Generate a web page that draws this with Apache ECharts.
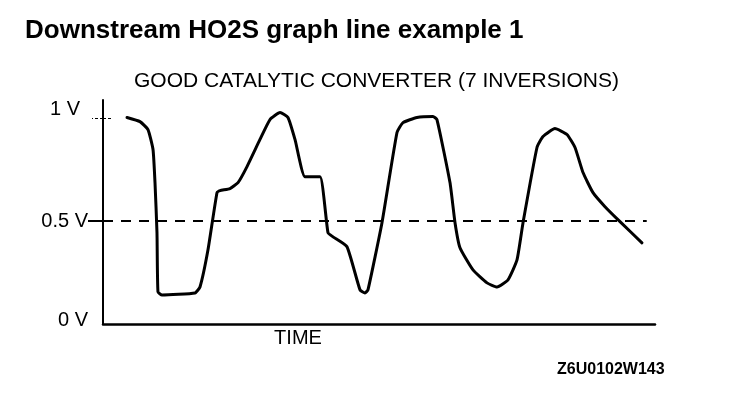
<!DOCTYPE html>
<html>
<head>
<meta charset="utf-8">
<script src="https://cdn.jsdelivr.net/npm/echarts@6/dist/echarts.min.js"></script>
<style>
html,body{margin:0;padding:0;background:#fff;}
#chart{width:736px;height:396px;}
</style>
</head>
<body>
<div id="chart"></div>
<script>
// Time (arbitrary units, 0..100 across the axis) and sensor voltage (V)
var timeValues = [4.35, 6.7, 8.15, 9.06, 9.42, 9.78, 9.96, 10.69, 16.67, 17.57, 19.02, 20.65, 21.2, 23.0, 24.46, 26.09, 28.44, 30.25, 32.07, 33.51, 34.78, 36.59, 39.31, 40.76, 41.67, 44.2, 46.56, 47.46, 48.0, 50.54, 53.26, 54.35, 56.88, 59.78, 60.5, 62.86, 63.77, 64.67, 67.03, 69.57, 71.38, 73.37, 75.0, 76.09, 78.62, 79.71, 81.88, 84.06, 85.51, 86.96, 88.77, 90.94, 93.66, 97.64];
var voltValues = [1.005, 0.985, 0.946, 0.849, 0.688, 0.444, 0.156, 0.141, 0.151, 0.180, 0.361, 0.639, 0.649, 0.659, 0.688, 0.766, 0.898, 0.995, 1.029, 1.005, 0.898, 0.717, 0.717, 0.444, 0.424, 0.376, 0.166, 0.151, 0.166, 0.493, 0.932, 0.980, 1.005, 1.010, 0.995, 0.688, 0.493, 0.371, 0.263, 0.200, 0.180, 0.215, 0.312, 0.493, 0.859, 0.912, 0.951, 0.922, 0.859, 0.737, 0.639, 0.571, 0.498, 0.395];
var yTickValues = [0, 0.5, 1];
var yTickLabels = ['0 V', '0.5 V', '1 V'];
var thresholdVolt = 0.5;
var thresholdEndTime = 98.5;
var topMarkVolt = 1;
var topMarkEndTime = 1.8;

var chartTitle = 'Downstream HO2S graph line example 1';
var chartSubtitle = 'GOOD CATALYTIC CONVERTER (7 INVERSIONS)';
var xAxisName = 'TIME';
var figureCode = 'Z6U0102W143';

var seriesData = timeValues.map(function (t, i) { return [t, voltValues[i]]; });

var chart = echarts.init(document.getElementById('chart'), null, {renderer: 'canvas'});
var FONT = '"Liberation Sans", Arial, sans-serif';

chart.setOption({
  backgroundColor: '#ffffff',
  animation: false,
  title: [
    {text: chartTitle, left: 20, top: 13,
     textStyle: {fontFamily: FONT, fontSize: 26, fontWeight: 'bold', color: '#000'}},
    {text: chartSubtitle, left: 129, top: 66,
     textStyle: {fontFamily: FONT, fontSize: 21, fontWeight: 'normal', color: '#000'}},
    {text: figureCode, left: 552, top: 357,
     textStyle: {fontFamily: FONT, fontSize: 16, fontWeight: 'bold', color: '#000'}}
  ],
  grid: {left: 103, right: 81, top: 100, bottom: 72, containLabel: false},
  xAxis: {
    type: 'value', min: 0, max: 100,
    name: xAxisName, nameLocation: 'middle', nameGap: 14,
    nameTextStyle: {fontFamily: FONT, fontSize: 20, color: '#000', padding: [0, 162, 0, 0], verticalAlign: 'middle', lineHeight: 20},
    axisLine: {show: true, onZero: false, lineStyle: {color: '#000', width: 2.5}},
    axisTick: {show: false}, axisLabel: {show: false}, splitLine: {show: false}
  },
  yAxis: [
    {
      type: 'value', min: 0, max: 1.09,
      axisLine: {show: true, onZero: false, lineStyle: {color: '#000', width: 2}},
      axisTick: {show: true, customValues: [0.5], length: 15, lineStyle: {color: '#000', width: 2}},
      axisLabel: {
        show: true, customValues: yTickValues, margin: 15,
        fontFamily: FONT, fontSize: 20, color: '#000',
        formatter: function (v) {
          var i = yTickValues.indexOf(Math.round(v * 100) / 100);
          if (i === 2) return '{top|' + yTickLabels[i] + '}';
          if (i === 0) return '{bot|' + yTickLabels[i] + '}';
          return i >= 0 ? yTickLabels[i] : '';
        },
        rich: {
          top: {fontFamily: FONT, fontSize: 20, color: '#000', padding: [0, 8, 18, 0]},
          bot: {fontFamily: FONT, fontSize: 20, color: '#000', padding: [0, 0, 8, 0]}
        }
      },
      splitLine: {show: false}
    },
    {
      type: 'value', min: 0, max: 1.09, position: 'left',
      axisLine: {show: false},
      axisTick: {show: true, customValues: [1], length: 11, lineStyle: {color: '#000', width: 1, type: [3, 2]}},
      axisLabel: {show: false}, splitLine: {show: false}
    }
  ],
  series: [{
    type: 'line',
    data: seriesData,
    showSymbol: false,
    symbol: 'none',
    smooth: 0.15,
    lineStyle: {color: '#000', width: 3, cap: 'round', join: 'round'},
    markLine: {
      silent: true, symbol: 'none', label: {show: false},
      lineStyle: {color: '#000', width: 1.8, type: [10, 8]},
      data: [
        [{coord: [0, thresholdVolt]}, {coord: [thresholdEndTime, thresholdVolt]}],
        [{coord: [0, topMarkVolt], lineStyle: {width: 1, type: [3, 2]}}, {coord: [topMarkEndTime, topMarkVolt]}]
      ]
    }
  }]
});
</script>
</body>
</html>
